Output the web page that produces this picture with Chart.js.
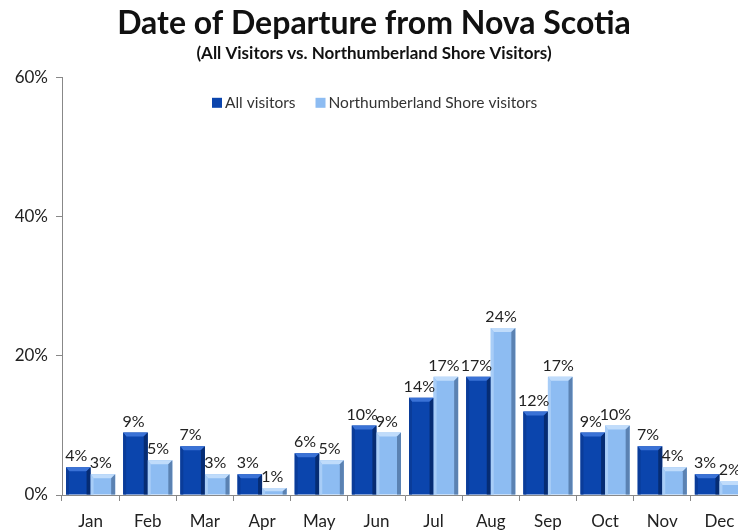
<!DOCTYPE html>
<html>
<head>
<meta charset="utf-8">
<script src="https://cdn.jsdelivr.net/npm/chart.js@4.4.1/dist/chart.umd.min.js"></script>
<style>
  html, body { margin: 0; padding: 0; background: #fff; overflow: hidden; }
  #wrap { width: 750px; height: 531px; }
</style>
</head>
<body>
<div id="wrap"><canvas id="mycanvas"></canvas></div>
<script>
// months on the x axis
var months = ['Jan', 'Feb', 'Mar', 'Apr', 'May', 'Jun', 'Jul', 'Aug', 'Sep', 'Oct', 'Nov', 'Dec'];
// share of departures per month (%)
var allVisitors = [4, 9, 7, 3, 6, 10, 14, 17, 12, 9, 7, 3];
var shoreVisitors = [3, 5, 3, 1, 5, 9, 17, 24, 17, 10, 4, 2];
var yTicks = [0, 20, 40, 60];

var seriesNames = ['All visitors', 'Northumberland Shore visitors'];

// fill, top highlight, left edge, right edge for each series
var shades = [
  { fill: '#0b45ad', top: '#3a72d6', left: '#0a3c99', right: '#062c73' },
  { fill: '#8dbcf2', top: '#c0dcfb', left: '#a8cdf7', right: '#5b82b2' }
];

// gives the flat bars a bit of a bevelled look
var bevelPlugin = {
  id: 'bevel',
  afterDatasetsDraw: function(chart) {
    var ctx = chart.ctx;
    chart.data.datasets.forEach(function(ds, i) {
      var s = shades[i];
      chart.getDatasetMeta(i).data.forEach(function(bar) {
        var l = bar.x - bar.width / 2, r = bar.x + bar.width / 2;
        var t = bar.y, b = bar.base;
        var e = Math.min(4, (b - t) / 2);
        ctx.save();
        // top face
        ctx.fillStyle = s.top;
        ctx.beginPath();
        ctx.moveTo(l, t); ctx.lineTo(r, t); ctx.lineTo(r - 4, t + e); ctx.lineTo(l + 3, t + e);
        ctx.closePath(); ctx.fill();
        // left face
        ctx.fillStyle = s.left;
        ctx.beginPath();
        ctx.moveTo(l, t); ctx.lineTo(l + 3, t + e); ctx.lineTo(l + 3, b); ctx.lineTo(l, b);
        ctx.closePath(); ctx.fill();
        // right face
        ctx.fillStyle = s.right;
        ctx.beginPath();
        ctx.moveTo(r, t); ctx.lineTo(r - 4, t + e); ctx.lineTo(r - 4, b); ctx.lineTo(r, b);
        ctx.closePath(); ctx.fill();
        ctx.restore();
      });
    });
  }
};

// value labels above each bar
var labelPlugin = {
  id: 'valueLabels',
  afterDatasetsDraw: function(chart) {
    var ctx = chart.ctx;
    ctx.save();
    ctx.font = '16px Lato';
    ctx.fillStyle = '#222';
    ctx.textAlign = 'center';
    ctx.textBaseline = 'bottom';
    chart.data.datasets.forEach(function(ds, i) {
      chart.getDatasetMeta(i).data.forEach(function(bar, j) {
        ctx.fillText(ds.data[j] + '%', bar.x - 2, bar.y - 3);
      });
    });
    ctx.restore();
  }
};

// legend sits inside the plot area, near the top
var legendPlugin = {
  id: 'innerLegend',
  afterDraw: function(chart) {
    var ctx = chart.ctx;
    var x = chart.chartArea.left + 150;
    var y = chart.chartArea.top + 25;
    ctx.save();
    ctx.font = '15.5px Lato';
    ctx.textBaseline = 'middle';
    chart.data.datasets.forEach(function(ds, i) {
      ctx.fillStyle = shades[i].fill;
      ctx.fillRect(x, y - 5, 10, 10);
      ctx.fillStyle = '#333';
      ctx.fillText(ds.label, x + 13, y);
      x += 13 + ctx.measureText(ds.label).width + 20;
    });
    ctx.restore();
  }
};

var chartdata = {
  labels: months,
  datasets: [
    {
      label: seriesNames[0],
      backgroundColor: shades[0].fill,
      data: allVisitors
    },
    {
      label: seriesNames[1],
      backgroundColor: shades[1].fill,
      data: shoreVisitors
    }
  ]
};

var x = document.getElementById('mycanvas');

var barGraph = new Chart(x, {
  type: 'bar',
  data: chartdata,
  plugins: [bevelPlugin, labelPlugin, legendPlugin],
  options: {
    responsive: true,
    maintainAspectRatio: false,
    animation: false,
    datasets: { bar: { categoryPercentage: 0.86, barPercentage: 1.0 } },
    layout: { padding: { left: 0, right: 2, top: 0, bottom: 0 } },
    plugins: {
      legend: { display: false },
      tooltip: { enabled: false },
      title: {
        display: true,
        text: 'Date of Departure from Nova Scotia',
        color: '#111',
        font: { family: 'Lato', size: 32, weight: 'bold' },
        padding: { top: 4, bottom: 0 }
      },
      subtitle: {
        display: true,
        text: '(All Visitors vs. Northumberland Shore Visitors)',
        color: '#111',
        font: { family: 'Lato', size: 17, weight: 'bold' },
        padding: { top: 1, bottom: 14 }
      }
    },
    scales: {
      x: {
        grid: { display: true, offset: true, drawOnChartArea: false, color: '#888', tickLength: 6 },
        border: { color: '#888' },
        ticks: { color: '#222', font: { family: 'Lato', size: 17 }, padding: 10 },
        afterFit: function(axis) { axis.height = 36; }
      },
      y: {
        min: 0,
        max: 60,
        afterBuildTicks: function(axis) {
          axis.ticks = yTicks.map(function(v) { return { value: v }; });
        },
        grid: { drawOnChartArea: false, color: '#888', tickLength: 6 },
        border: { color: '#888' },
        ticks: {
          color: '#222',
          font: { family: 'Lato', size: 17 },
          padding: 8,
          callback: function(v) { return v + '%'; }
        },
        afterFit: function(axis) { axis.width = 62; }
      }
    }
  }
});
</script>
</body>
</html>
